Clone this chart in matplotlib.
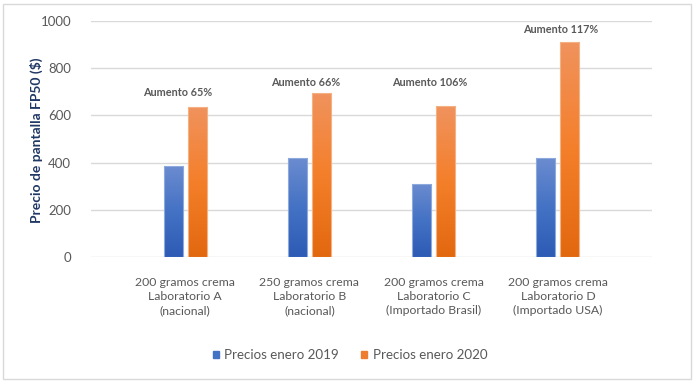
import numpy as np
import matplotlib
matplotlib.use("Agg")
from matplotlib import pyplot as plt
from matplotlib.colors import LinearSegmentedColormap
from matplotlib.patches import Rectangle

plt.rcParams['font.family'] = ['Lato', 'DejaVu Sans']

# Datos
categorias = [
    "200 gramos crema\nLaboratorio A\n(nacional)",
    "250 gramos crema\nLaboratorio B\n(nacional)",
    "200 gramos crema\nLaboratorio C\n(Importado Brasil)",
    "200 gramos crema\nLaboratorio D\n(Importado USA)",
]
precios_2019 = [386, 419, 311, 419]
precios_2020 = [636, 695, 638, 912]
aumentos = ["Aumento 65%", "Aumento 66%", "Aumento 106%", "Aumento 117%"]
aumento_x = [-0.06, 0.97, 1.97, 3.02]
aumento_y = [696, 738, 737, 962]

gris = "#595959"
azul = LinearSegmentedColormap.from_list("azul", ["#2D5BB5", "#4472C4", "#6C8CD0"])
naranja = LinearSegmentedColormap.from_list("naranja", ["#E2680F", "#F47F2A", "#F0935E"])

fig = plt.figure(figsize=(6.99, 3.82), dpi=100)
ax = fig.add_axes([0.1298, 0.3264, 0.8026, 0.6194])

x = np.arange(len(categorias))
ancho = 0.153
sep = 0.097

def barras_degradado(pos, valores, cmap, borde, etiqueta):
    bars = ax.bar(pos, valores, width=ancho, color="none", edgecolor=borde,
                  linewidth=0.8, zorder=3, label=etiqueta)
    grad = np.linspace(0, 1, 256).reshape(-1, 1)
    for b in bars:
        x0, y0 = b.get_x(), b.get_y()
        im = ax.imshow(grad, cmap=cmap, origin="lower", aspect="auto",
                       extent=(x0, x0 + b.get_width(), y0, y0 + b.get_height()),
                       zorder=2)
        im.set_clip_path(b)
    return bars

barras_degradado(x - sep, precios_2019, azul, "#8EA9DB", "Precios enero 2019")
barras_degradado(x + sep, precios_2020, naranja, "#F4B183", "Precios enero 2020")

for xi, yi, t in zip(aumento_x, aumento_y, aumentos):
    ax.text(xi, yi, t, ha="center", va="center", fontsize=7.8,
            fontweight="bold", color=gris)

ax.set_xlim(-0.76, 3.755)
ax.set_ylim(0, 1000)
ax.set_yticks(range(0, 1001, 200))
ax.set_xticks(x)
ax.set_xticklabels(categorias, fontsize=8.8, color=gris, linespacing=1.35)
ax.tick_params(axis="x", length=0, pad=14)
ax.tick_params(axis="y", length=0, pad=14, labelsize=9.5, labelcolor=gris)
ax.grid(axis="y", color="#D9D9D9", linewidth=1, zorder=0)
ax.set_axisbelow(True)
for s in ax.spines.values():
    s.set_visible(False)

fig.text(36 / 699, 1 - 140 / 382, "Precio de pantalla FP50 ($)", rotation=90,
         ha="center", va="center", fontsize=10, fontweight="bold", color="#203864")

handles = [Rectangle((0, 0), 1, 1, color="#4472C4"),
           Rectangle((0, 0), 1, 1, color="#ED7D31")]
fig.legend(handles, ["Precios enero 2019", "Precios enero 2020"],
           loc="center", bbox_to_anchor=(350 / 699, 1 - 355 / 382), ncol=2,
           frameon=False, fontsize=9.6, labelcolor=gris, handlelength=0.45,
           handleheight=0.45, handletextpad=0.4, columnspacing=1.7)

fig.patches.append(Rectangle((3 / 699, 3 / 382), 688 / 699, 375 / 382,
                             transform=fig.transFigure, fill=False,
                             edgecolor="#D9D9D9", linewidth=1))

fig.savefig("out.png", dpi=100)
